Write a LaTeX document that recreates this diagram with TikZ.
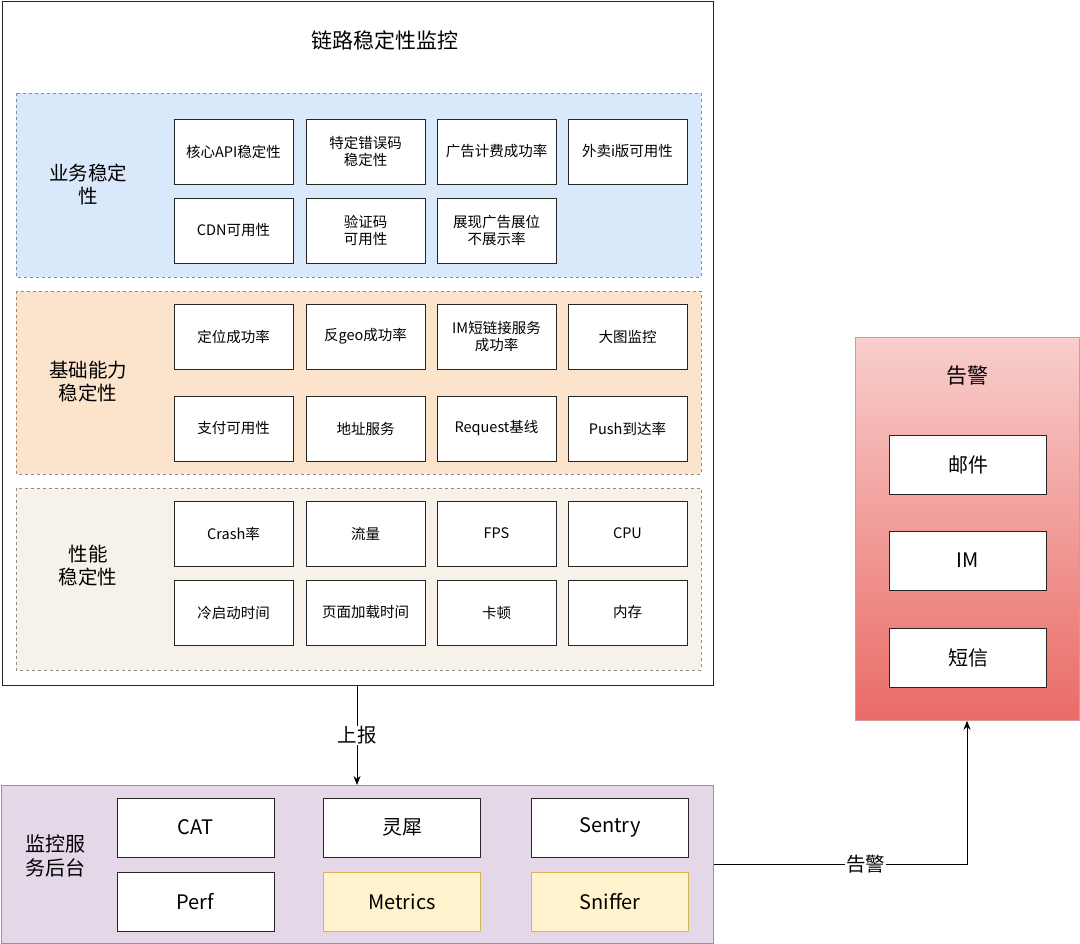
\documentclass[tikz,border=0pt]{standalone}
\usepackage{fontspec}
\setmainfont{Noto Sans CJK SC}
\usetikzlibrary{arrows.meta}
\definecolor{secblue}{HTML}{DAE8FC}
\definecolor{secorange}{HTML}{FCE4CC}
\definecolor{secgray}{HTML}{F6F2EA}
\definecolor{purplebg}{HTML}{E3D7E8}
\definecolor{purpleline}{HTML}{9F8DA8}
\definecolor{yelfill}{HTML}{FFF2CC}
\definecolor{yelline}{HTML}{D6B656}
\definecolor{redtop}{HTML}{F8CECC}
\definecolor{redbot}{HTML}{EA6B66}
\definecolor{redline}{HTML}{B85450}
\tikzset{
  x=1pt,y=-1pt,
  cell/.style={draw=black!85,fill=white,line width=0.9pt,minimum width=119pt,minimum height=65pt,
    align=center,font=\fontsize{14.5}{17}\selectfont,inner sep=2pt},
  bigcell/.style={draw=black!85,fill=white,line width=0.9pt,minimum width=157pt,minimum height=59pt,
    align=center,font=\fontsize{20}{24}\selectfont,inner sep=2pt},
  yelcell/.style={bigcell,fill=yelfill,draw=yelline},
  section/.style={draw=black!45,dashed,line width=0.6pt},
  seclabel/.style={align=center,font=\fontsize{19.5}{23}\selectfont},
  conn/.style={line width=0.9pt,-{Stealth[length=9pt,width=7pt]}},
  lbl/.style={fill=white,font=\fontsize{19.5}{22}\selectfont,inner sep=1pt}
}
\begin{document}
\begin{tikzpicture}
\useasboundingbox (0,0) rectangle (1080,944);
% outer box
\node[draw=black!85,line width=1pt,minimum width=711pt,minimum height=684pt,anchor=north west,inner sep=0pt] (outer) at (2,1) {};
\node[font=\fontsize{21}{25}\selectfont] (title) at (385,40) {链路稳定性监控};
% sections
\draw[section,fill=secblue] (16,93) rectangle (701,277);
\draw[section,fill=secorange] (16,291) rectangle (701,474);
\draw[section,fill=secgray] (16,488) rectangle (701,670);
\node[seclabel] (s1) at (88,185) {业务稳定\\性};
\node[seclabel] (s2) at (88,382) {基础能力\\稳定性};
\node[seclabel] (s3) at (88,566) {性能\\稳定性};
% row 1
\node[cell] (a1) at (233.5,151.5) {核心API稳定性};
\node[cell] (a2) at (365.5,151.5) {特定错误码\\稳定性};
\node[cell] (a3) at (496.5,151.5) {广告计费成功率};
\node[cell] (a4) at (627.5,151.5) {外卖i版可用性};
\node[cell] (a5) at (233.5,230.5) {CDN可用性};
\node[cell] (a6) at (365.5,230.5) {验证码\\可用性};
\node[cell] (a7) at (496.5,230.5) {展现广告展位\\不展示率};
% section 2
\node[cell] (b1) at (233.5,336.5) {定位成功率};
\node[cell] (b2) at (365.5,336.5) {反geo成功率};
\node[cell] (b3) at (496.5,336.5) {IM短链接服务\\成功率};
\node[cell] (b4) at (627.5,336.5) {大图监控};
\node[cell] (b5) at (233.5,428.5) {支付可用性};
\node[cell] (b6) at (365.5,428.5) {地址服务};
\node[cell] (b7) at (496.5,428.5) {Request基线};
\node[cell] (b8) at (627.5,428.5) {Push到达率};
% section 3
\node[cell] (c1) at (233.5,533.5) {Crash率};
\node[cell] (c2) at (365.5,533.5) {流量};
\node[cell] (c3) at (496.5,533.5) {FPS};
\node[cell] (c4) at (627.5,533.5) {CPU};
\node[cell] (c5) at (233.5,612.5) {冷启动时间};
\node[cell] (c6) at (365.5,612.5) {页面加载时间};
\node[cell] (c7) at (496.5,612.5) {卡顿};
\node[cell] (c8) at (627.5,612.5) {内存};
% bottom box
\node[draw=purpleline,fill=purplebg,line width=1pt,minimum width=712pt,minimum height=158pt,anchor=north west,inner sep=0pt] (back) at (1,785) {};
\node[seclabel,font=\fontsize{20}{24}\selectfont] (backlbl) at (55,856) {监控服\\务后台};
\node[bigcell] (d1) at (195.5,827.5) {CAT};
\node[bigcell] (d2) at (402,827.5) {灵犀};
\node[bigcell] (d3) at (610,827.5) {Sentry};
\node[bigcell] (d4) at (195.5,901.5) {Perf};
\node[yelcell] (d5) at (402,901.5) {Metrics};
\node[yelcell] (d6) at (610,901.5) {Sniffer};
% alarm box
\node[draw=redline!60,top color=redtop,bottom color=redbot,line width=0.8pt,minimum width=224pt,minimum height=383pt,anchor=north west,inner sep=0pt] (alarm) at (855,337) {};
\node[font=\fontsize{21}{25}\selectfont] (alarmtitle) at (967,376) {告警};
\node[bigcell] (e1) at (968,464.5) {邮件};
\node[bigcell] (e2) at (968,560.5) {IM};
\node[bigcell] (e3) at (968,658) {短信};
% connectors
\draw[conn] (outer.south -| 357,0) -- node[lbl] (up) {上报} (back.north -| 357,0);
\coordinate (corner) at (967,864);
\draw[conn] (back.east |- corner) -- node[lbl,pos=0.6] (al) {告警} (corner) -- (alarm.south -| corner);
\end{tikzpicture}
\end{document}
